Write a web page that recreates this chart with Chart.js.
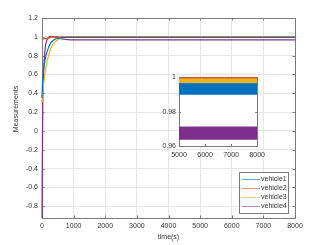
<!DOCTYPE html>
<html>
<head>
<meta charset="utf-8">
<script src="https://cdn.jsdelivr.net/npm/chart.js@4.4.1/dist/chart.umd.min.js"></script>
<style>
  html, body { margin: 0; padding: 0; background: #fff; }
  #wrap { position: relative; width: 327px; height: 245px; }
  #main { position: absolute; left: 0; top: 0; }
  #inset { position: absolute; left: 150px; top: 70px; }
</style>
</head>
<body>
<div id="wrap">
  <canvas id="main" width="327" height="245"></canvas>
  <canvas id="inset" width="120" height="95"></canvas>
</div>
<script>
// series names and colours
const names = ['vehicle1', 'vehicle2', 'vehicle3', 'vehicle4'];
const colors = ['#0072BD', '#D95319', '#EDB120', '#7E2F8E'];

// main plot
const time = [0, 10, 25, 50, 100, 150, 200, 250, 300, 400, 500, 600, 700, 800, 1000, 8000];
const vehicle1 = [0.35, 0.45, 0.55, 0.65, 0.76, 0.83, 0.88, 0.92, 0.945, 0.972, 0.985, 0.99, 0.992, 0.993, 0.993, 0.993];
const vehicle2 = [0.975, 0.976, 0.977, 0.978, 0.98, 0.983, 0.987, 0.992, 0.996, 0.999, 1.0, 1.0, 1.0, 1.0, 1.0, 1.0];
const vehicle3 = [0.3, 0.35, 0.42, 0.5, 0.62, 0.72, 0.79, 0.85, 0.89, 0.94, 0.97, 0.985, 0.994, 0.997, 0.998, 0.998];
const vehicle4 = [-0.925, -0.3, 0.3, 0.62, 0.88, 0.96, 0.99, 1.003, 1.005, 1.0, 0.99, 0.98, 0.974, 0.97, 0.967, 0.967];

const xTicks = [0, 1000, 2000, 3000, 4000, 5000, 6000, 7000, 8000];
const yTicks = [-0.8, -0.6, -0.4, -0.2, 0, 0.2, 0.4, 0.6, 0.8, 1, 1.2];

// inset: the noisy steady state, as lower/upper edges of each band
const insetTime = [5000, 8000];
const band1 = [0.9898, 0.9963];
const band2 = [0.9993, 0.99995];
const band3 = [0.9965, 0.9994];
const band4 = [0.9636, 0.9711];
const insetXTicks = [5000, 6000, 7000, 8000];
const insetYTicks = [0.96, 0.98, 1];

const FONT = 'Liberation Sans, Arial, Helvetica, sans-serif';
const TXT = '#333333';
const BOX = '#7a7a7a';

function pts(xs, ys) { return xs.map((x, i) => ({ x: x, y: ys[i] })); }
function num(v) { return String(+v.toFixed(3)); }

// box round the plot area plus MATLAB-style inward ticks (drawn under the lines)
function boxPlugin(xs, ys, tickLen) {
  return {
    id: 'box',
    beforeDatasetsDraw(chart) {
      const { ctx, chartArea: a, scales } = chart;
      ctx.save();
      ctx.strokeStyle = BOX;
      ctx.lineWidth = 1;
      ctx.beginPath();
      xs.forEach(v => {
        const px = Math.round(scales.x.getPixelForValue(v)) + 0.5;
        ctx.moveTo(px, a.bottom); ctx.lineTo(px, a.bottom - tickLen);
        ctx.moveTo(px, a.top); ctx.lineTo(px, a.top + tickLen);
      });
      ys.forEach(v => {
        const py = Math.round(scales.y.getPixelForValue(v)) + 0.5;
        ctx.moveTo(a.left, py); ctx.lineTo(a.left + tickLen, py);
        ctx.moveTo(a.right, py); ctx.lineTo(a.right - tickLen, py);
      });
      ctx.stroke();
      ctx.strokeRect(Math.round(a.left) + 0.5, Math.round(a.top) + 0.5,
        Math.round(a.right - a.left), Math.round(a.bottom - a.top));
      ctx.restore();
    }
  };
}

// legend box in the lower right corner + y axis title
const legendPlugin = {
  id: 'legendBox',
  afterDraw(chart) {
    const { ctx } = chart;
    ctx.save();
    ctx.fillStyle = '#fff';
    ctx.fillRect(239, 172, 49, 41);
    ctx.strokeStyle = BOX;
    ctx.lineWidth = 1;
    ctx.strokeRect(239.5, 172.5, 49, 41);
    ctx.font = '7px ' + FONT;
    ctx.textBaseline = 'middle';
    chart.data.datasets.forEach((ds, i) => {
      const y = 179.5 + i * 9;
      ctx.strokeStyle = ds.borderColor;
      ctx.globalAlpha = 0.6;
      ctx.beginPath();
      ctx.moveTo(242, y); ctx.lineTo(260, y);
      ctx.stroke();
      ctx.globalAlpha = 1;
      ctx.fillStyle = TXT;
      ctx.fillText(ds.label, 261, y);
    });
    ctx.translate(16, 109);
    ctx.rotate(-Math.PI / 2);
    ctx.textAlign = 'center';
    ctx.fillText('Measurements', 0, 0);
    ctx.restore();
  }
};

const series = [vehicle1, vehicle2, vehicle3, vehicle4];

new Chart(document.getElementById('main'), {
  type: 'line',
  data: {
    datasets: series.map((ys, i) => ({
      label: names[i],
      data: pts(time, ys),
      borderColor: colors[i],
      backgroundColor: colors[i],
      borderWidth: 1.2,
      pointRadius: 0,
      cubicInterpolationMode: 'monotone',
      clip: 3
    }))
  },
  options: {
    responsive: false,
    animation: false,
    events: [],
    layout: { padding: { left: 0, top: 18, right: 32, bottom: 0 } },
    plugins: { legend: { display: false }, tooltip: { enabled: false } },
    scales: {
      x: {
        type: 'linear',
        min: 0, max: 8000,
        afterFit(s) { s.height = 27; },
        afterBuildTicks(s) { s.ticks = xTicks.map(v => ({ value: v })); },
        grid: { color: '#e6e6e6', drawTicks: false },
        border: { display: false },
        ticks: { padding: 4, color: TXT, font: { family: FONT, size: 7 }, maxRotation: 0, callback: v => String(v) },
        title: { display: true, text: 'time(s)', color: TXT, font: { family: FONT, size: 7 }, padding: { top: 0, bottom: 4 } }
      },
      y: {
        type: 'linear',
        min: -0.925, max: 1.2,
        afterFit(s) { s.width = 42; },
        afterBuildTicks(s) { s.ticks = yTicks.map(v => ({ value: v })); },
        grid: { color: '#e6e6e6', drawTicks: false },
        border: { display: false },
        ticks: { padding: 4, color: TXT, font: { family: FONT, size: 7 }, callback: v => num(v) }
      }
    }
  },
  plugins: [boxPlugin(xTicks, yTicks, 2.5), legendPlugin]
});

// inset chart: each vehicle is a filled band between its lower and upper edge
const bands = [band1, band2, band3, band4];
const insetSets = [];
bands.forEach((b, i) => {
  insetSets.push({
    data: pts(insetTime, [b[0], b[0]]),
    borderColor: colors[i], borderWidth: 0, pointRadius: 0, fill: false
  });
  insetSets.push({
    data: pts(insetTime, [b[1], b[1]]),
    borderColor: colors[i], backgroundColor: colors[i], borderWidth: 0.8,
    pointRadius: 0, fill: '-1'
  });
});

const whiteArea = {
  id: 'whiteArea',
  beforeDraw(chart) {
    const { ctx, chartArea: a } = chart;
    ctx.save();
    ctx.fillStyle = '#fff';
    ctx.fillRect(a.left, a.top, a.right - a.left, a.bottom - a.top);
    ctx.restore();
  }
};

new Chart(document.getElementById('inset'), {
  type: 'line',
  data: { datasets: insetSets },
  options: {
    responsive: false,
    animation: false,
    events: [],
    layout: { padding: { left: 0, top: 7, right: 9, bottom: 0 } },
    plugins: { legend: { display: false }, tooltip: { enabled: false } },
    scales: {
      x: {
        type: 'linear',
        min: 5000, max: 8000,
        afterFit(s) { s.height = 19; },
        afterBuildTicks(s) { s.ticks = insetXTicks.map(v => ({ value: v })); },
        grid: { display: false, drawTicks: false },
        border: { display: false },
        ticks: { padding: 5, color: TXT, font: { family: FONT, size: 7 }, maxRotation: 0, callback: v => String(v) }
      },
      y: {
        type: 'linear',
        min: 0.96, max: 1,
        afterFit(s) { s.width = 29; },
        afterBuildTicks(s) { s.ticks = insetYTicks.map(v => ({ value: v })); },
        grid: { display: false, drawTicks: false },
        border: { display: false },
        ticks: { padding: 3, color: TXT, font: { family: FONT, size: 7 }, callback: v => num(v) }
      }
    }
  },
  plugins: [whiteArea, boxPlugin(insetXTicks, insetYTicks, 2)]
});
</script>
</body>
</html>
